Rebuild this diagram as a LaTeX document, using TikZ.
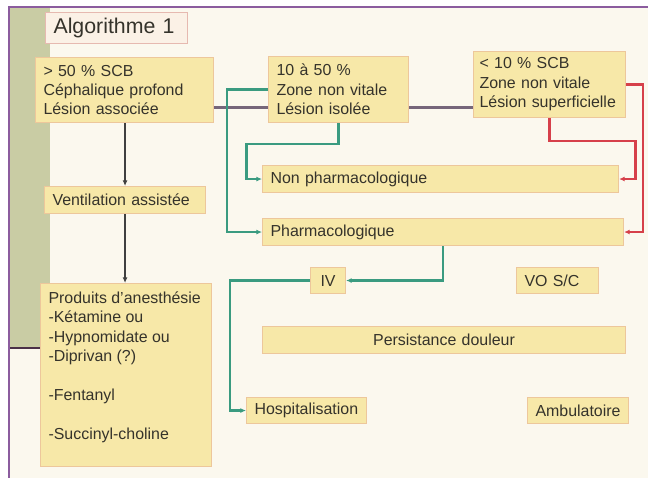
\documentclass[tikz,border=0pt]{standalone}
\usepackage{fontspec}
\setmainfont{Liberation Sans}
\usetikzlibrary{arrows.meta,positioning,calc}
\definecolor{fondcreme}{HTML}{FBF8EE}
\definecolor{barre}{HTML}{C9CCA4}
\definecolor{cadre}{HTML}{8B5C9E}
\definecolor{traitsombre}{HTML}{4A3048}
\definecolor{jaunepale}{HTML}{F7E8A8}
\definecolor{bordpeche}{HTML}{EDC79B}
\definecolor{fondtitre}{HTML}{FBF1E6}
\definecolor{bordrose}{HTML}{E6B9B0}
\definecolor{texte}{HTML}{35332B}
\definecolor{vert}{HTML}{3A9B80}
\definecolor{rouge}{HTML}{D6404A}
\definecolor{violetgris}{HTML}{76667A}
\tikzset{
  boite/.style={rectangle, draw=bordpeche, line width=0.9pt, fill=jaunepale,
    text=texte, font=\fontsize{13.6}{16.6}\selectfont, align=left,
    inner xsep=0.24cm, inner ysep=0.06cm, anchor=north west},
  titre/.style={boite, draw=bordrose, fill=fondtitre,
    font=\fontsize{18.2}{20}\selectfont},
  lienV/.style={line width=2pt, violetgris},
  arrN/.style={-{Latex[length=1.7mm,width=1.5mm]}, line width=1.6pt, black!75},
  arrG/.style={-{Latex[length=1.7mm,width=1.5mm]}, line width=1.8pt, vert},
  arrR/.style={-{Latex[length=1.7mm,width=1.5mm]}, line width=1.8pt, rouge},
}
\begin{document}
\begin{tikzpicture}[x=0.03cm, y=-0.03cm]
\useasboundingbox (0,0) rectangle (648,478);

% ================= FOND ET CADRE =================
\fill[white] (0,0) rectangle (648,478);
\fill[fondcreme] (9,7) rectangle (648,478);
\fill[barre] (9,7) rectangle (50,348);
\draw[traitsombre, line width=2pt] (9,348) -- (50,348);
\draw[cadre, line width=1.8pt] (648,7) -- (9,7) -- (9,478);

% ================= TITRE =================
\node[titre, text width=3.78cm, minimum height=0.93cm] (titre) at (45,12) {Algorithme 1};

% ================= LIGNE DU HAUT : TROIS CAS =================
\node[boite, text width=4.86cm, minimum height=1.95cm] (grave) at (35,57)
  {> 50 \% SCB\\Céphalique profond\\Lésion associée};
\node[boite, text width=3.72cm, minimum height=1.98cm] (moyen) at (268,56)
  {10 à 50 \%\\Zone non vitale\\Lésion isolée};
\node[boite, text width=4.2cm, inner xsep=0.18cm, minimum height=1.98cm] (leger) at (473,51)
  {< 10 \% SCB\\Zone non vitale\\Lésion superficielle};

% ================= COLONNE DE GAUCHE =================
\node[boite, text width=4.35cm, minimum height=0.81cm] (ventil) at (44,186)
  {Ventilation assistée};
\node[boite, inner ysep=0.24cm] (produits) at (40,283)
  {\parbox[t][5.01cm][t]{4.65cm}{Produits d'anesthésie\\-Kétamine ou\\-Hypnomidate ou\\-Diprivan (?)\\[\baselineskip]
   -Fentanyl\\[\baselineskip]-Succinyl-choline}};

% ================= TRAITEMENTS =================
\node[boite, text width=10.2cm, minimum height=0.81cm] (nonpharma) at (262,165)
  {Non pharmacologique};
\node[boite, text width=10.35cm, minimum height=0.81cm] (pharma) at (262,218)
  {Pharmacologique};
\node[boite, align=center, text width=0.57cm, minimum height=0.78cm] (iv) at (310,267) {IV};
\node[boite, text width=1.98cm, minimum height=0.78cm] (vo) at (516,267) {VO S/C};
\node[boite, align=center, text width=10.41cm, minimum height=0.81cm] (douleur) at (262,326)
  {Persistance douleur};
\node[boite, text width=3.12cm, minimum height=0.78cm] (hospit) at (246,397)
  {Hospitalisation};
\node[boite, align=center, text width=2.55cm, minimum height=0.78cm] (ambu) at (527,397)
  {Ambulatoire};

% ================= LIENS =================
\draw[arrN] (ventil.north |- grave.south) -- (ventil.north);
\draw[arrN] (ventil.south) -- (ventil.south |- produits.north);

\draw[lienV] ($(grave.east)+(0,17.5)$) coordinate (h1) -- (h1 -| moyen.west);
\draw[lienV] (moyen.east |- h1) -- (h1 -| leger.west);

\draw[arrG] (moyen.west) -- ++(-41,0) |- (pharma.west);
\draw[arrG] (moyen.south) -- ++(0,21) -- ++(-92,0) |- (nonpharma.west);

\draw[arrR] (leger.east) -- ++(17,0) |- (pharma.east);
\draw[arrR] (leger.south) -- ++(0,23) -- ++(86,0) |- (nonpharma.east);

\draw[arrG] (pharma.south) |- (iv.east);
\draw[arrG] (iv.west) -- ++(-80,0) |- (hospit.west);

\end{tikzpicture}
\end{document}
